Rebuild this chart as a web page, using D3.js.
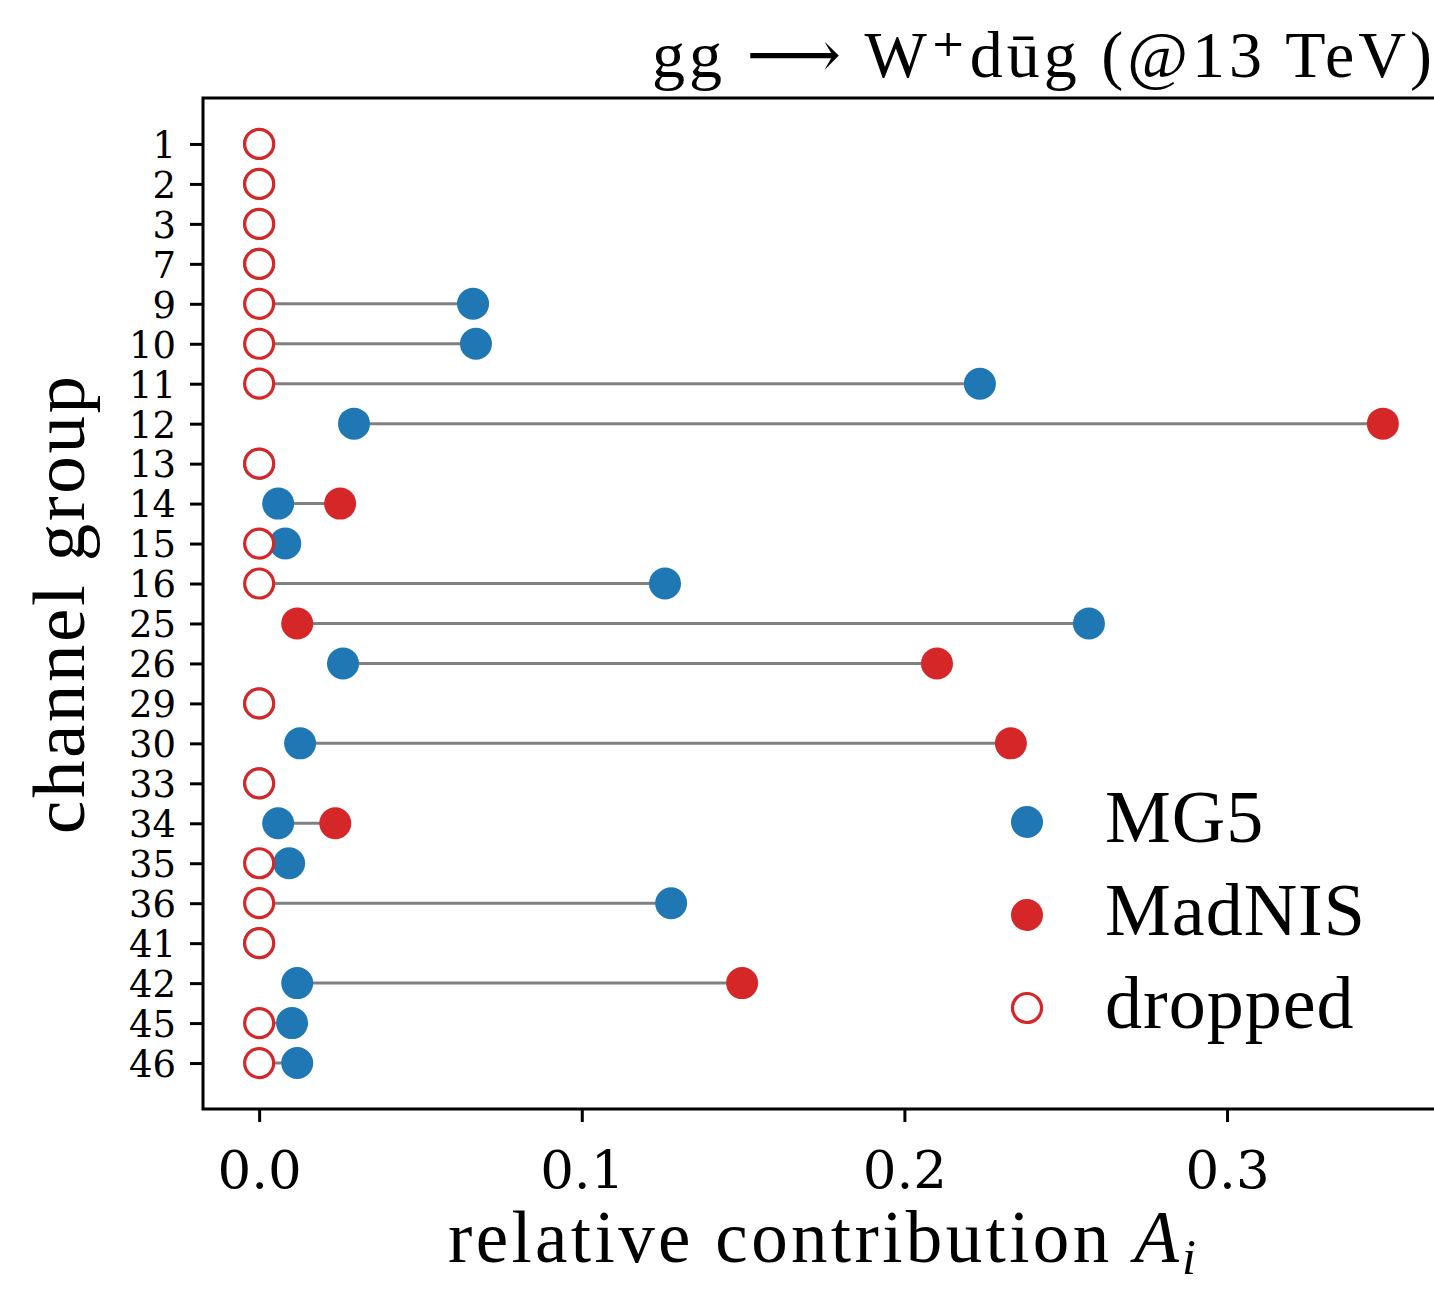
<!DOCTYPE html>
<html>
<head>
<meta charset="utf-8">
<script src="https://cdn.jsdelivr.net/npm/d3@7"></script>
<style>
  body { margin: 0; background: #fff; }
  svg { display: block; }
</style>
</head>
<body>
<svg id="chart"></svg>
<script>
// channel groups, top to bottom
const channels = ['1', '2', '3', '7', '9', '10', '11', '12', '13', '14', '15', '16',
  '25', '26', '29', '30', '33', '34', '35', '36', '41', '42', '45', '46'];

// relative contribution A_i of MG5 per channel
const mg5 = [0, 0, 0, 0, 0.0663, 0.0672, 0.2234, 0.0294, 0, 0.0059, 0.0081, 0.1258,
  0.2572, 0.0260, 0, 0.0127, 0, 0.0059, 0.0093, 0.1277, 0, 0.0118, 0.0102, 0.0118];

// MadNIS contribution, null = channel dropped
const madnis = [null, null, null, null, null, null, null, 0.3483, null, 0.0251, null, null,
  0.0118, 0.2101, null, 0.2330, null, 0.0236, null, null, null, 0.1497, null, null];

const xTicks = [0.0, 0.1, 0.2, 0.3];

const width = 1434, height = 1300;
const margin = { top: 98, right: -5, bottom: 191, left: 203 };

const blue = '#1f77b4', red = '#d62728';
const serif = '"Liberation Serif", "DejaVu Serif", serif';
const numFont = '"DejaVu Serif", serif';

const svg = d3.select('#chart')
  .attr('width', width)
  .attr('height', height);

const x = d3.scaleLinear()
  .domain([-0.0174, 0.3657])
  .range([margin.left, width - margin.right]);

const y = d3.scalePoint()
  .domain(channels)
  .range([margin.top, height - margin.bottom])
  .padding(1.15);

const rows = channels.map((c, i) => ({
  c: c,
  mg5: mg5[i],
  madnis: madnis[i] === null ? 0 : madnis[i],
  dropped: madnis[i] === null
}));

const plot = svg.append('g');

// connecting lines
plot.selectAll('line.link').data(rows)
  .enter().append('line')
  .attr('class', 'link')
  .attr('x1', d => x(d.mg5))
  .attr('x2', d => x(d.madnis))
  .attr('y1', d => y(d.c))
  .attr('y2', d => y(d.c))
  .attr('stroke', '#808080')
  .attr('stroke-width', 3);

// MG5 points
plot.selectAll('circle.mg5').data(rows)
  .enter().append('circle')
  .attr('class', 'mg5')
  .attr('cx', d => x(d.mg5))
  .attr('cy', d => y(d.c))
  .attr('r', 16)
  .attr('fill', blue);

// MadNIS points
plot.selectAll('circle.madnis').data(rows.filter(d => !d.dropped))
  .enter().append('circle')
  .attr('class', 'madnis')
  .attr('cx', d => x(d.madnis))
  .attr('cy', d => y(d.c))
  .attr('r', 16)
  .attr('fill', red);

// dropped channels (hollow)
plot.selectAll('circle.dropped').data(rows.filter(d => d.dropped))
  .enter().append('circle')
  .attr('class', 'dropped')
  .attr('cx', d => x(d.madnis))
  .attr('cy', d => y(d.c))
  .attr('r', 14.5)
  .attr('fill', '#fff')
  .attr('stroke', red)
  .attr('stroke-width', 3.2);

// axes
const xAxis = svg.append('g')
  .attr('transform', `translate(0, ${height - margin.bottom})`)
  .call(d3.axisBottom(x).tickValues(xTicks).tickFormat(d3.format('.1f')).tickSize(13).tickPadding(14));

const yAxis = svg.append('g')
  .attr('transform', `translate(${margin.left}, 0)`)
  .call(d3.axisLeft(y).tickSize(13).tickPadding(14));

[xAxis, yAxis].forEach(a => {
  a.select('.domain').remove();
  a.selectAll('.tick line').attr('stroke', '#000').attr('stroke-width', 3);
  a.selectAll('.tick text').attr('fill', '#000').style('font-family', numFont);
});
xAxis.selectAll('.tick text').style('font-size', '53px').attr('dy', '0.98em');
yAxis.selectAll('.tick text').style('font-size', '37px').attr('dy', '0.36em');

// frame (right side falls outside the picture)
svg.append('path')
  .attr('d', `M${width + 10},${margin.top} H${margin.left} V${height - margin.bottom} H${width + 10}`)
  .attr('fill', 'none')
  .attr('stroke', '#000')
  .attr('stroke-width', 3);

// labels
svg.append('text')
  .attr('x', width - 2)
  .attr('y', 77)
  .attr('text-anchor', 'end')
  .attr('textLength', 780)
  .attr('lengthAdjust', 'spacing')
  .style('font-family', serif)
  .style('font-size', '66px')
  .text('gg ⟶ W⁺dūg (@13 TeV)');

const xl = svg.append('text')
  .attr('x', 822)
  .attr('y', 1262)
  .attr('text-anchor', 'middle')
  .attr('textLength', 748)
  .attr('lengthAdjust', 'spacing')
  .style('font-family', serif)
  .style('font-size', '73px');
xl.append('tspan').text('relative contribution ');
xl.append('tspan').attr('font-style', 'italic').text('A');
xl.append('tspan').attr('font-style', 'italic').attr('font-size', '50px').attr('dy', 12).text('i');

svg.append('text')
  .attr('transform', 'translate(84, 605) rotate(-90)')
  .attr('text-anchor', 'middle')
  .attr('textLength', 458)
  .attr('lengthAdjust', 'spacing')
  .style('font-family', serif)
  .style('font-size', '75px')
  .text('channel group');

// legend
const legendItems = [
  { label: 'MG5', fill: blue, stroke: 'none' },
  { label: 'MadNIS', fill: red, stroke: 'none' },
  { label: 'dropped', fill: '#fff', stroke: red }
];
const legend = svg.append('g').attr('transform', 'translate(1027, 822)');
const li = legend.selectAll('g').data(legendItems)
  .enter().append('g')
  .attr('transform', (d, i) => `translate(0, ${i * 93})`);
li.append('circle')
  .attr('r', d => d.stroke === 'none' ? 16 : 14.5)
  .attr('fill', d => d.fill)
  .attr('stroke', d => d.stroke)
  .attr('stroke-width', 3.2);
li.append('text')
  .attr('x', 78)
  .attr('y', 20)
  .style('font-family', serif)
  .style('font-size', '74px')
  .style('letter-spacing', '1px')
  .text(d => d.label);
</script>
</body>
</html>
